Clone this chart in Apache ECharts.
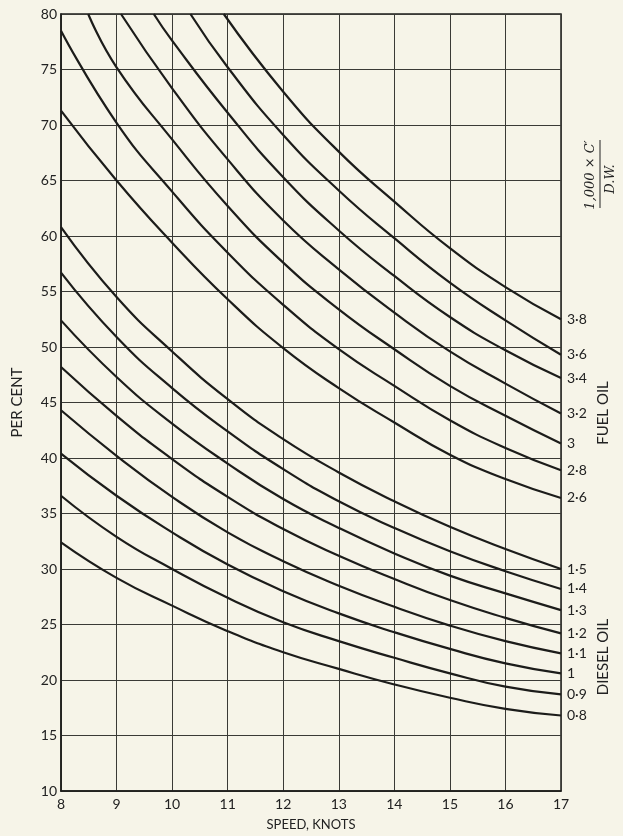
<!DOCTYPE html>
<html>
<head>
<meta charset="utf-8">
<script src="https://cdn.jsdelivr.net/npm/echarts@6/dist/echarts.min.js"></script>
<style>
  html, body { margin: 0; padding: 0; background: #f6f4e8; }
  #chart { width: 623px; height: 836px; }
</style>
</head>
<body>
<div id="chart"></div>
<script>
// ---- data ----
const speeds = [8, 9, 10, 11, 12, 13, 14, 15, 16, 17];
const xTicks = [8, 9, 10, 11, 12, 13, 14, 15, 16, 17];
const yTicks = [10, 15, 20, 25, 30, 35, 40, 45, 50, 55, 60, 65, 70, 75, 80];

// Diesel oil curves (1,000 x C' / D.W.)
const dieselLabels = ['0·8', '0·9', '1', '1·1', '1·2', '1·3', '1·4', '1·5'];
const diesel08 = [32.4, 29.2, 26.7, 24.4, 22.5, 21.0, 19.6, 18.4, 17.4, 16.8];
const diesel09 = [36.6, 32.9, 30.0, 27.4, 25.2, 23.5, 22.0, 20.6, 19.4, 18.7];
const diesel10 = [40.4, 36.6, 33.3, 30.4, 28.0, 26.0, 24.3, 22.8, 21.5, 20.6];
const diesel11 = [44.3, 40.2, 36.5, 33.3, 30.7, 28.5, 26.6, 24.9, 23.5, 22.4];
const diesel12 = [48.2, 43.8, 39.9, 36.5, 33.6, 31.2, 29.1, 27.2, 25.6, 24.2];
const diesel13 = [52.4, 47.3, 43.1, 39.5, 36.3, 33.7, 31.4, 29.4, 27.8, 26.3];
const diesel14 = [56.7, 50.9, 46.3, 42.4, 39.0, 36.1, 33.7, 31.6, 29.8, 28.2];
const diesel15 = [60.8, 54.5, 49.6, 45.3, 41.7, 38.7, 36.1, 33.8, 31.8, 30.0];

// Fuel oil curves; null = above the top of the chart
const fuelLabels = ['2·6', '2·8', '3', '3·2', '3·4', '3·6', '3·8'];
const fuel26 = [71.3, 65.0, 59.4, 54.3, 49.9, 46.3, 43.2, 40.3, 38.1, 36.4];
const fuel28 = [78.5, 70.2, 64.0, 58.5, 53.8, 49.8, 46.5, 43.4, 40.9, 38.9];
const fuel30 = [null, 75.2, 68.7, 62.7, 57.6, 53.4, 49.8, 46.5, 43.8, 41.3];
const fuel32 = [null, null, 73.3, 66.9, 61.4, 57.0, 53.1, 49.6, 46.7, 44.0];
const fuel34 = [null, null, 77.6, 71.1, 65.3, 60.5, 56.4, 52.7, 49.7, 47.2];
const fuel36 = [null, null, null, 75.2, 69.1, 64.1, 59.8, 55.8, 52.4, 49.3];
const fuel38 = [null, null, null, null, 73.0, 67.6, 63.1, 58.9, 55.4, 52.5];
// speed at which each fuel curve enters through the 80 % top edge
const fuelEntrySpeed = [null, null, 8.49, 9.08, 9.67, 10.33, 10.93];
const topValue = 80;

const dieselSeries = [diesel08, diesel09, diesel10, diesel11, diesel12, diesel13, diesel14, diesel15];
const fuelSeries = [fuel26, fuel28, fuel30, fuel32, fuel34, fuel36, fuel38];

// ---- build ----
const FONT = 'Lato, "Open Sans", sans-serif';
const INK = '#1c1c1a';

function buildData(vals, entry) {
  const d = [];
  if (entry != null) d.push([entry, topValue]);
  speeds.forEach((s, i) => { if (vals[i] != null) d.push([s, vals[i]]); });
  return d;
}
function makeSeries(vals, label, entry) {
  return {
    type: 'line',
    data: buildData(vals, entry),
    smooth: 0.5,
    showSymbol: false,
    symbol: 'none',
    lineStyle: { color: INK, width: 2.2 },
    clip: true,
    endLabel: {
      show: true, formatter: label, distance: 6,
      color: '#222', fontFamily: FONT, fontSize: 14
    },
    silent: true
  };
}
const series = [];
dieselSeries.forEach((v, i) => series.push(makeSeries(v, dieselLabels[i], null)));
fuelSeries.forEach((v, i) => series.push(makeSeries(v, fuelLabels[i], fuelEntrySpeed[i])));

const chart = echarts.init(document.getElementById('chart'), null, { renderer: 'canvas' });
chart.setOption({
  animation: false,
  backgroundColor: '#f6f4e8',
  grid: { left: 61, right: 62, top: 14, bottom: 40, show: true, borderColor: INK, borderWidth: 1.5, containLabel: false },
  xAxis: {
    type: 'value', min: xTicks[0], max: xTicks[xTicks.length - 1], interval: 1,
    name: 'SPEED, KNOTS', nameLocation: 'middle', nameGap: 27,
    nameTextStyle: { color: '#222', fontFamily: FONT, fontSize: 13 },
    axisLine: { show: true, lineStyle: { color: INK, width: 1.5 } },
    axisTick: { show: false },
    axisLabel: { color: '#222', fontFamily: FONT, fontSize: 14, margin: 6 },
    splitLine: { show: true, lineStyle: { color: '#3a3a36', width: 1 } }
  },
  yAxis: {
    type: 'value', min: yTicks[0], max: yTicks[yTicks.length - 1], interval: 5,
    name: 'PER CENT', nameLocation: 'middle', nameGap: 36, nameRotate: 90,
    nameTextStyle: { color: '#222', fontFamily: FONT, fontSize: 15 },
    axisLine: { show: true, lineStyle: { color: INK, width: 1.5 } },
    axisTick: { show: false },
    axisLabel: { color: '#222', fontFamily: FONT, fontSize: 14, margin: 4 },
    splitLine: { show: true, lineStyle: { color: '#3a3a36', width: 1 } }
  },
  graphic: [
    { type: 'text', x: 603, y: 413, rotation: Math.PI / 2,
      style: { text: 'FUEL OIL', fill: '#222', font: '15px ' + FONT, textAlign: 'center', textVerticalAlign: 'middle' } },
    { type: 'text', x: 603, y: 657, rotation: Math.PI / 2,
      style: { text: 'DIESEL OIL', fill: '#222', font: '15px ' + FONT, textAlign: 'center', textVerticalAlign: 'middle' } },
    { type: 'text', x: 591, y: 175, rotation: Math.PI / 2,
      style: { text: '1,000 × C′', fill: '#222', font: 'italic 13px "DejaVu Serif", serif', textAlign: 'center', textVerticalAlign: 'middle' } },
    { type: 'line', shape: { x1: 600, y1: 208, x2: 600, y2: 140 },
      style: { stroke: '#222', lineWidth: 1 } },
    { type: 'text', x: 611, y: 179, rotation: Math.PI / 2,
      style: { text: 'D.W.', fill: '#222', font: 'italic 13px "DejaVu Serif", serif', textAlign: 'center', textVerticalAlign: 'middle' } }
  ],
  series: series
});
</script>
</body>
</html>
